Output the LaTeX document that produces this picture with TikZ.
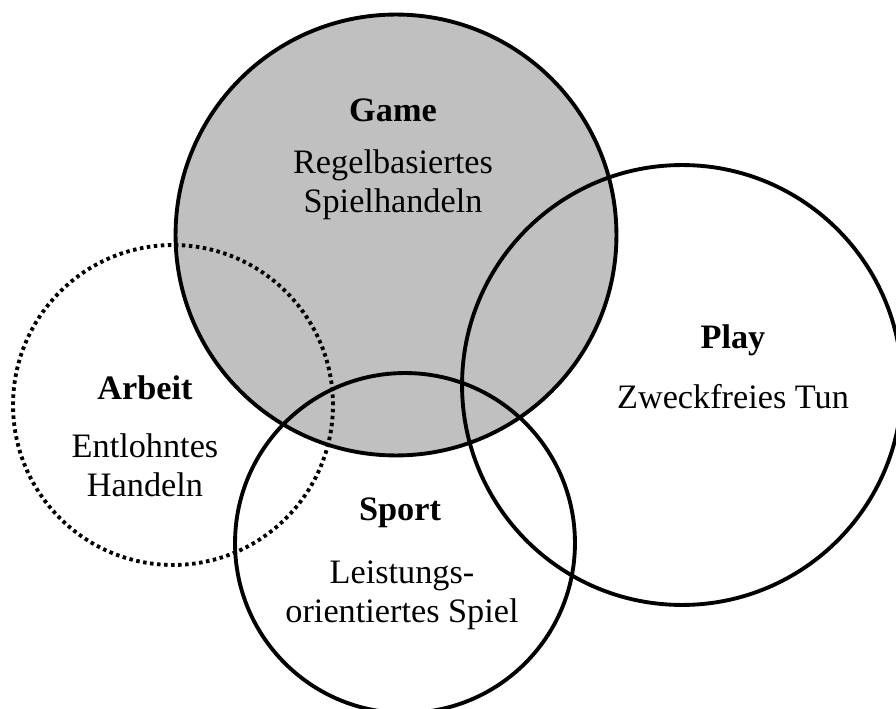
\documentclass[tikz,border=0pt]{standalone}
\usepackage{fontspec}
\setmainfont{Liberation Serif}
\definecolor{gamegray}{RGB}{192,192,192}
\begin{document}
\begin{tikzpicture}[x=0.02cm,y=-0.02cm,
  ring/.style={draw,circle,line width=2.2pt,inner sep=0pt,outer sep=0pt},
  head/.style={font=\fontsize{19.5}{22.2}\selectfont\bfseries,inner sep=1pt},
  body/.style={font=\fontsize{19.5}{22.2}\selectfont,align=center,inner sep=1pt}]
\useasboundingbox (0,0) rectangle (896,709);
\draw (396,235) node[ring,fill=gamegray,minimum size=8.82cm] (Game) {};
\draw (682,385) node[ring,minimum size=8.8cm] (Play) {};
\draw (173,405) node[ring,dash pattern=on 2pt off 2pt,minimum size=6.4cm] (Arbeit) {};
\draw (405,543) node[ring,minimum size=6.8cm] (Sport) {};

\draw (393,110) node[head] (GameT) {Game};
\draw (393,185) node[body] (GameB) {Regelbasiertes\\Spielhandeln};
\draw (733,340) node[head] (PlayT) {Play};
\draw (733,397) node[body] (PlayB) {Zweckfreies Tun};
\draw (145,388) node[head] (ArbeitT) {Arbeit};
\draw (145,465) node[body] (ArbeitB) {Entlohntes\\Handeln};
\draw (400,513) node[head] (SportT) {Sport};
\draw (402,595) node[body] (SportB) {Leistungs-\\orientiertes Spiel};

\end{tikzpicture}
\end{document}
